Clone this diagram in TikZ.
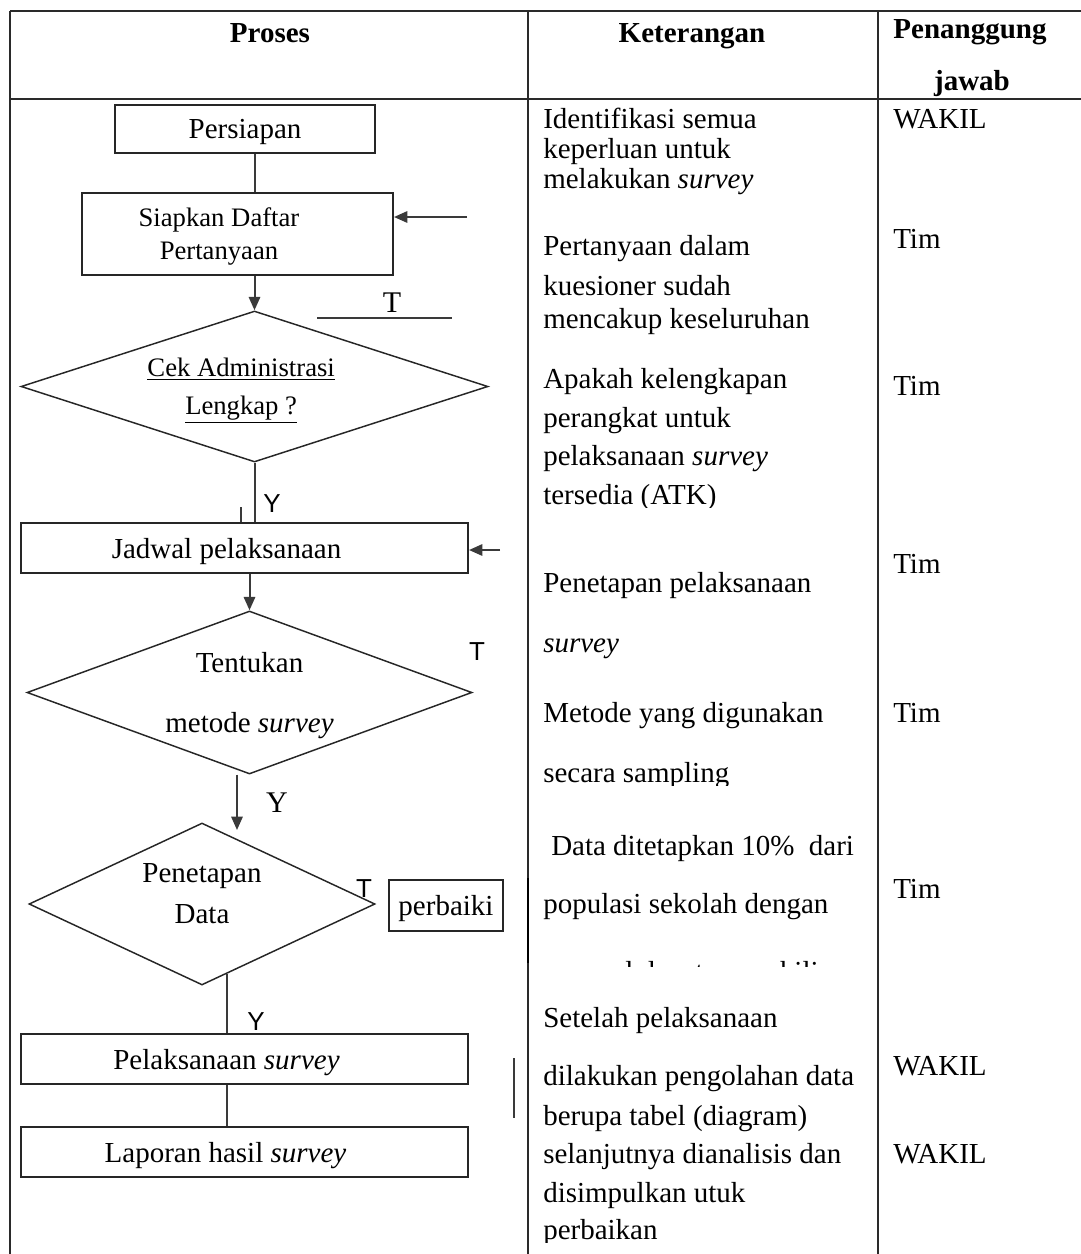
\documentclass[tikz,border=0pt]{standalone}
\usepackage{fontspec}
\setmainfont{Liberation Serif}
\newfontfamily\sanslab{Liberation Sans}
\usetikzlibrary{shapes.geometric, arrows.meta}
\definecolor{connline}{HTML}{3a3a3a}
\definecolor{ruleline}{HTML}{2a2a2a}
\newcommand{\fbig}{\fontsize{21.75pt}{24pt}\selectfont}
\newcommand{\padr}[1]{\rule{#1}{0pt}}

\begin{document}
\begin{tikzpicture}[
    x=0.75pt, y=-0.75pt,
    every node/.style={align=center},
    box/.style={rectangle, draw=black!85, line width=1.5pt, inner sep=0pt,
                text depth=0pt, font=\fbig},
    decision/.style={diamond, draw=black!85, line width=1.1pt, inner sep=0pt,
                     text depth=0pt},
    arr/.style={-{Triangle[length=10pt, width=8.5pt]}, line width=1.5pt, color=connline},
    conn/.style={line width=1.5pt, color=connline},
    tabline/.style={line width=1.2pt, color=ruleline},
    head/.style={anchor=base, inner sep=0pt, font=\bfseries\fbig},
    ket/.style={anchor=base west, inner sep=0pt, font=\fbig},
    labT/.style={inner sep=0pt, text depth=0pt, font=\sanslab\fontsize{19.5pt}{19.5pt}\selectfont},
    labS/.style={inner sep=0pt, text depth=0pt, font=\fontsize{22.5pt}{22.5pt}\selectfont}
]
\useasboundingbox (0,0) rectangle (1081,1254);

% Table
\draw[tabline] (10,11) -- (1081,11);
\draw[tabline] (10,99) -- (1081,99);
\draw[tabline] (10,11) -- (10,1254);
\draw[tabline] (528,11) -- (528,1254);
\draw[tabline] (878,11) -- (878,1254);
\draw[line width=2.2pt] (528,878) -- (528,963);

\node[head] (hProses) at (270,42) {Proses};
\node[head] (hKet) at (692,42) {Keterangan};
\node[head] (hPj1) at (970,38) {Penanggung};
\node[head] (hPj2) at (972,90) {jawab};

% Nodes
\node[box, minimum width=195pt, minimum height=36pt] (prep) at (245,129)
    {Persiapan};
\node[box, minimum width=233.25pt, minimum height=61.5pt,
      font=\fontsize{20pt}{24.75pt}\selectfont] (siap) at (237.5,234)
    {Siapkan Daftar\padr{27.75pt}\\Pertanyaan\padr{27.75pt}};
\node[decision, minimum width=350.25pt, minimum height=113.25pt, aspect=3.09,
      font=\fontsize{20pt}{28.5pt}\selectfont] (dia1) at (254.5,386.5)
    {\underline{Cek Administrasi}\padr{20pt}\\\underline{Lengkap ?}\padr{20pt}};
\node[box, minimum width=335.25pt, minimum height=37.5pt] (jad) at (244.5,548)
    {Jadwal pelaksanaan\padr{27pt}};
\node[decision, minimum width=333.75pt, minimum height=122.25pt, aspect=2.73,
      font=\fontsize{21.75pt}{45pt}\selectfont] (dia2) at (249.5,692.5)
    {Tentukan\\metode \textit{survey}};
\node[decision, minimum width=259.5pt, minimum height=121.5pt, aspect=2.14,
      text depth=15.75pt, font=\fontsize{21.75pt}{30.75pt}\selectfont] (dia3) at (202,904)
    {Penetapan\\Data};
\node[box, minimum width=85.5pt, minimum height=38.25pt] (fix) at (446,905.5)
    {perbaiki};
\node[box, minimum width=335.25pt, minimum height=37.5pt] (pel) at (244.5,1059)
    {Pelaksanaan \textit{survey}\padr{27pt}};
\node[box, minimum width=335.25pt, minimum height=37.5pt] (lap) at (244.5,1152)
    {Laporan hasil \textit{survey}\padr{28.5pt}};

% Labels
\node[labS] (tTop) at (392,303) {T};
\node[labT] (yOne) at (272,504) {Y};
\node[labT] (tTwo) at (477,652) {T};
\node[labS] (yTwo) at (277,803) {Y};
\node[labT] (tThree) at (364,889) {T};
\node[labT] (yThree) at (256,1022) {Y};

\coordinate (tLineA) at (317,318);
\coordinate (tLineB) at (452,318);
\coordinate (inSiap) at (467,217);
\coordinate (inJad) at (500,550);
\coordinate (stub) at (241,507);
\coordinate (dyEnd) at (237,830);
\coordinate (dpStart) at (227,974);
\coordinate (vA) at (514,1058);
\coordinate (vB) at (514,1118);

% Arrows
\draw[conn] (prep.south -| dia1.north) -- (siap.north -| dia1.north);
\draw[arr] (inSiap) -- (inSiap -| siap.east);
\draw[arr] (siap.south -| dia1.north) -- (dia1.north);
\draw[conn] (tLineA) -- (tLineB);
\draw[conn] (dia1.south) -- (dia1.south |- jad.north);
\draw[conn, line width=0.8pt] (stub) -- (stub |- jad.north);
\draw[arr] (inJad) -- (inJad -| jad.east);
\draw[arr] (jad.south -| dia2.north) -- (dia2.north);
\draw[arr] (dyEnd |- dia2.south) -- (dyEnd);
\draw[conn] (dpStart) -- (dpStart |- pel.north);
\draw[conn] (pel.south -| dpStart) -- (lap.north -| dpStart);
\draw[conn] (vA) -- (vB);

% Keterangan
\foreach \y/\kl [count=\i] in {128/Identifikasi semua, 158/keperluan untuk,
    188/melakukan \textit{survey}, 255/Pertanyaan dalam, 295/kuesioner sudah,
    328/mencakup keseluruhan, 388/Apakah kelengkapan, 427/perangkat untuk,
    465/pelaksanaan \textit{survey}, 592/Penetapan pelaksanaan, 652/\textit{survey},
    722/Metode yang digunakan, 855/\hspace*{6pt}Data ditetapkan 10\%\ \ dari,
    913/populasi sekolah dengan, 1027/Setelah pelaksanaan,
    1085/dilakukan pengolahan data, 1125/berupa tabel (diagram),
    1163/selanjutnya dianalisis dan, 1202/disimpulkan utuk}
  \node[ket] (ket\i) at (543,\y) {\kl};

\begin{scope}
  \clip (528,470) rectangle (878,507);
  \node[ket] (ketAtk) at (543,504) {tersedia (ATK)};
\end{scope}
\begin{scope}
  \clip (528,750) rectangle (878,785);
  \node[ket] (ketSampling) at (543,782) {secara sampling};
\end{scope}
\begin{scope}
  \clip (528,940) rectangle (878,966);
  \node[ket] (ketWakili) at (543,981.5) {\hspace*{6pt}sampel dapat mewakili};
\end{scope}
\begin{scope}
  \clip (528,1210) rectangle (878,1242);
  \node[ket] (ketPerbaikan) at (543,1239) {perbaikan};
\end{scope}

% Penanggung jawab
\foreach \y/\pj [count=\i] in {128/WAKIL, 248/Tim, 395/Tim, 573/Tim, 722/Tim,
    898/Tim, 1075/WAKIL, 1163/WAKIL}
  \node[ket] (pj\i) at (893,\y) {\pj};

\end{tikzpicture}
\end{document}
